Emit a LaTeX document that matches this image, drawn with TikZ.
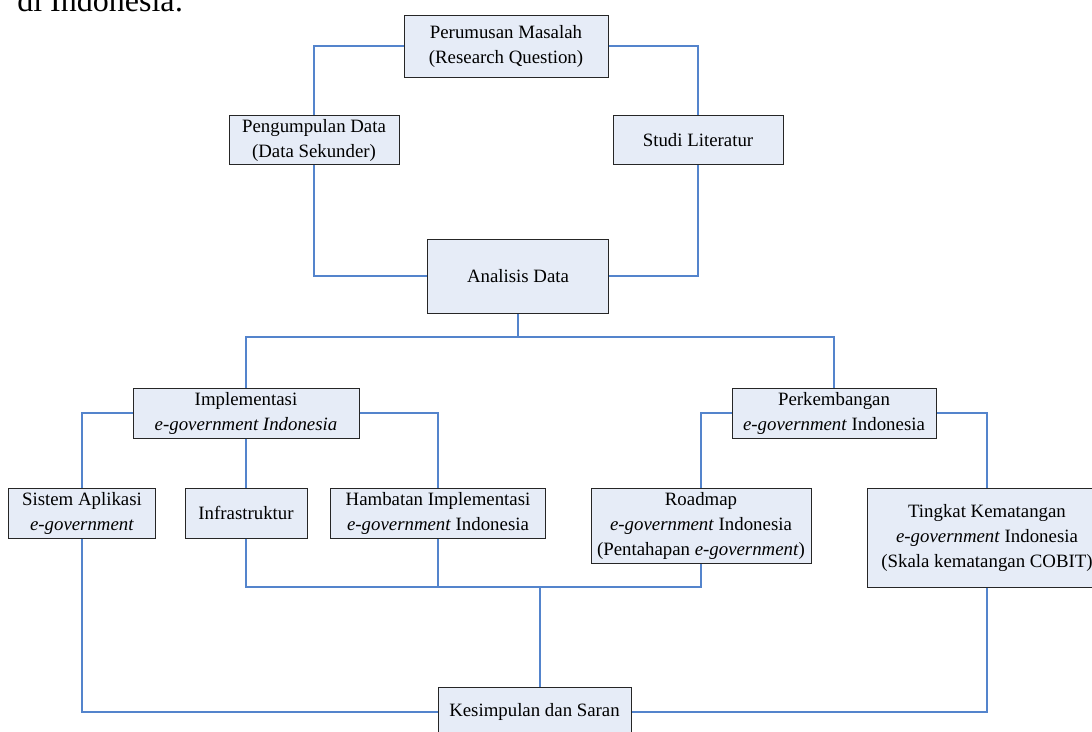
\documentclass[tikz,border=0pt]{standalone}
\usepackage{fontspec}
\setmainfont{Liberation Serif}
\definecolor{boxfill}{RGB}{230,236,247}
\definecolor{linkblue}{RGB}{84,132,204}
\tikzset{
  box/.style={draw=black!85, fill=boxfill, line width=0.6pt, align=center, inner sep=0pt,
    font=\fontsize{11.3}{15}\selectfont},
  link/.style={draw=linkblue, line width=0.7pt}
}
\newcommand{\eg}{\textit{e-government}}
\begin{document}
\begin{tikzpicture}[x=0.6pt, y=-0.6pt]
\useasboundingbox (0,0) rectangle (1092,731);
\node[anchor=base west, font=\fontsize{19.2}{22}\selectfont, inner sep=0pt] (judul) at (17,11) {di Indonesia:};

\node[box, minimum width=204*0.6pt, minimum height=62*0.6pt] (rumusan) at (506,46) {Perumusan Masalah\\(Research Question)};
\node[box, minimum width=170*0.6pt, minimum height=49*0.6pt] (kumpul) at (314,140) {Pengumpulan Data\\(Data Sekunder)};
\node[box, minimum width=170*0.6pt, minimum height=49*0.6pt] (studi) at (698,140) {Studi Literatur};
\node[box, minimum width=181*0.6pt, minimum height=74*0.6pt] (analisis) at (518,276) {Analisis Data};

\node[box, minimum width=226*0.6pt, minimum height=50*0.6pt] (impl) at (246,413) {Implementasi\\\textit{e-government Indonesia}};
\node[box, minimum width=204*0.6pt, minimum height=50*0.6pt] (kembang) at (834,413) {Perkembangan\\\eg{} Indonesia};

\node[box, minimum width=147*0.6pt, minimum height=50*0.6pt] (sistem) at (82,513) {Sistem Aplikasi\\\eg};
\node[box, minimum width=122*0.6pt, minimum height=50*0.6pt] (infra) at (246,513) {Infrastruktur};
\node[box, minimum width=215*0.6pt, minimum height=50*0.6pt] (hambat) at (438,513) {Hambatan Implementasi\\\eg{} Indonesia};
\node[box, minimum width=220*0.6pt, minimum height=75*0.6pt] (roadmap) at (701,525.5) {Roadmap\\\eg{} Indonesia\\(Pentahapan \eg)};
\node[box, minimum width=240*0.6pt, minimum height=99*0.6pt] (tingkat) at (987,537.5) {Tingkat Kematangan\\\eg{} Indonesia\\(Skala kematangan COBIT)};

\node[box, minimum width=193*0.6pt, minimum height=50*0.6pt] (simpul) at (534.5,712) {Kesimpulan dan Saran};

\coordinate (bus1) at (518,337);
\coordinate (bus2) at (540,587);

\draw[link] (rumusan.west) -| (kumpul.north);
\draw[link] (rumusan.east) -| (studi.north);
\draw[link] (kumpul.south) |- (analisis.west);
\draw[link] (studi.south) |- (analisis.east);
\draw[link] (analisis.south) -- (bus1);
\draw[link] (impl.north) |- (bus1) -| (kembang.north);

\draw[link] (impl.west) -| (sistem.north);
\draw[link] (impl.east) -| (hambat.north);
\draw[link] (impl.south) -- (infra.north);
\draw[link] (kembang.west) -| (roadmap.north);
\draw[link] (kembang.east) -| (tingkat.north);

\draw[link] (infra.south) |- (bus2) -| (roadmap.south);
\draw[link] (hambat.south) -- (hambat.south |- bus2);
\draw[link] (bus2) -- (bus2 |- simpul.north);
\draw[link] (sistem.south) |- (simpul.west);
\draw[link] (tingkat.south) |- (simpul.east);
\end{tikzpicture}
\end{document}
